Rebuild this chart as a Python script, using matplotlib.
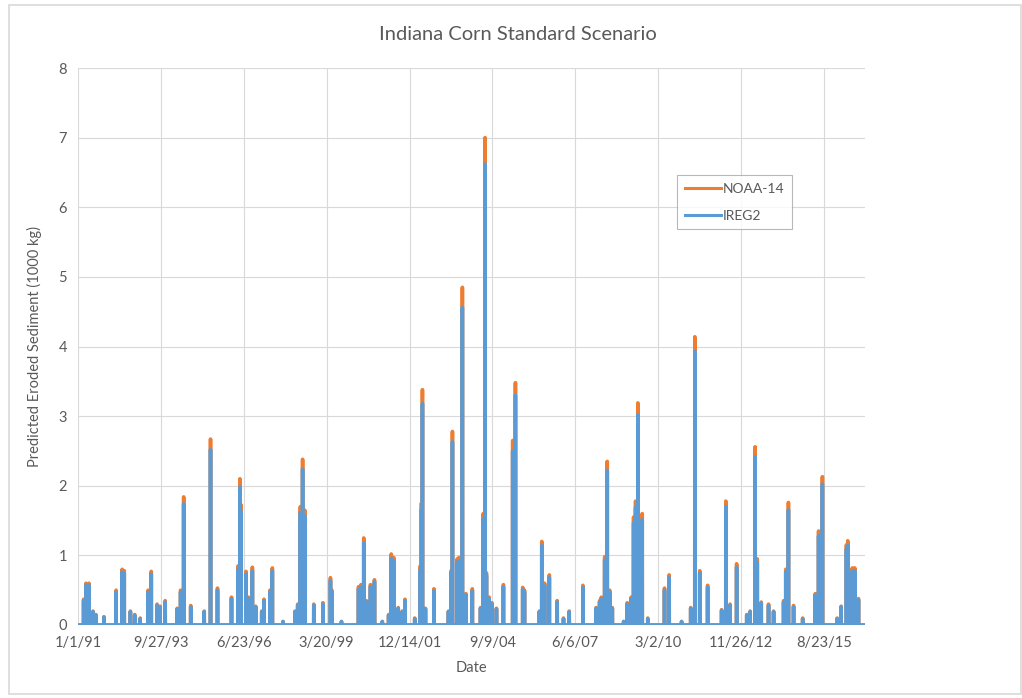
"""
Indiana Corn Standard Scenario - daily predicted eroded sediment, NOAA-14 vs IREG2.
"""

import datetime as dt
import numpy as np
import pandas as pd
import matplotlib
matplotlib.use("Agg")
import matplotlib.pyplot as plt
from matplotlib.lines import Line2D
from matplotlib.patches import Rectangle

plt.rcParams['path.simplify'] = False
plt.rcParams['font.family'] = ['Lato', 'DejaVu Sans']

# Excel default palette
ORANGE = '#ED7D31'
BLUE = '#5B9BD5'
GREY_TEXT = '#595959'
GRID = '#D9D9D9'

start_date = "1991-01-01"
end_date = "2016-12-31"

# runoff events (all other days ~0)
event_dates = [
    "1991-03-10", "1991-04-07", "1991-05-14", "1991-07-01", "1991-08-05", "1991-11-10",
    "1992-04-05", "1992-06-17", "1992-07-12", "1992-09-24", "1992-11-15", "1993-01-20",
    "1993-04-26", "1993-06-03", "1993-08-12", "1993-09-17", "1993-11-18", "1994-04-12",
    "1994-05-23", "1994-06-29", "1994-09-22", "1995-03-04", "1995-05-19", "1995-08-11",
    "1996-01-27", "1996-04-16", "1996-05-08", "1996-05-19", "1996-07-20", "1996-08-18",
    "1996-10-05", "1996-11-14", "1997-01-26", "1997-02-22", "1997-05-05", "1997-06-03",
    "1997-10-10", "1998-03-04", "1998-04-05", "1998-05-07", "1998-06-03", "1998-06-29",
    "1998-10-16", "1999-02-03", "1999-05-05", "1999-05-22", "1999-09-15", "2000-04-08",
    "2000-05-08", "2000-06-10", "2000-07-12", "2000-08-30", "2000-10-17", "2001-01-20",
    "2001-04-06", "2001-05-08", "2001-06-06", "2001-07-31", "2001-09-17", "2001-10-20",
    "2002-02-15", "2002-04-24", "2002-05-07", "2002-05-19", "2002-06-24", "2002-10-05",
    "2003-03-29", "2003-05-01", "2003-05-16", "2003-07-13", "2003-08-03", "2003-09-13",
    "2003-10-25", "2004-01-11", "2004-04-19", "2004-05-22", "2004-06-13", "2004-06-29",
    "2004-08-01", "2004-09-03", "2004-10-28", "2005-01-20", "2005-05-12", "2005-06-14",
    "2005-09-10", "2005-10-01", "2006-03-30", "2006-04-28", "2006-06-01", "2006-07-28",
    "2006-10-31", "2007-01-15", "2007-03-25", "2007-09-06", "2008-02-13", "2008-03-26",
    "2008-04-16", "2008-05-26", "2008-06-26", "2008-07-25", "2008-08-26", "2009-01-10",
    "2009-02-22", "2009-04-11", "2009-05-10", "2009-06-03", "2009-07-01", "2009-08-22",
    "2009-10-28", "2010-05-18", "2010-07-13", "2010-12-10", "2011-03-30", "2011-05-19",
    "2011-07-17", "2011-10-20", "2012-04-06", "2012-05-27", "2012-07-17", "2012-10-04",
    "2013-02-03", "2013-03-16", "2013-05-15", "2013-06-10", "2013-07-28", "2013-10-24",
    "2013-12-24", "2014-04-24", "2014-05-20", "2014-06-21", "2014-08-22", "2014-12-10",
    "2015-05-11", "2015-06-20", "2015-07-10", "2015-08-05", "2016-01-30", "2016-03-18",
    "2016-05-21", "2016-06-06", "2016-07-31", "2016-08-29", "2016-10-13",
]

noaa14_peak = [
    0.37, 0.60, 0.60, 0.20, 0.15, 0.12,
    0.50, 0.80, 0.78, 0.20, 0.15, 0.10,
    0.50, 0.77, 0.30, 0.27, 0.35, 0.24,
    0.50, 1.84, 0.28, 0.20, 2.67, 0.53,
    0.40, 0.85, 2.10, 1.73, 0.77, 0.40,
    0.83, 0.27, 0.20, 0.37, 0.50, 0.82,
    0.05, 0.20, 0.30, 1.70, 2.38, 1.65,
    0.30, 0.32, 0.68, 0.50, 0.05, 0.55,
    0.58, 1.25, 0.35, 0.58, 0.65, 0.05,
    0.15, 1.02, 0.97, 0.25, 0.20, 0.37,
    0.10, 0.85, 1.75, 3.38, 0.24, 0.52,
    0.20, 0.78, 2.78, 0.95, 0.97, 4.85,
    0.45, 0.52, 0.25, 1.60, 7.00, 0.75,
    0.40, 0.32, 0.24, 0.58, 2.65, 3.48,
    0.54, 0.50, 0.20, 1.20, 0.60, 0.72,
    0.35, 0.10, 0.20, 0.57, 0.25, 0.35,
    0.40, 0.98, 2.35, 0.50, 0.25, 0.05,
    0.32, 0.40, 1.55, 1.78, 3.19, 1.60,
    0.10, 0.53, 0.72, 0.05, 0.25, 4.14,
    0.78, 0.57, 0.22, 1.78, 0.30, 0.88,
    0.15, 0.20, 2.56, 0.95, 0.33, 0.30,
    0.20, 0.35, 0.80, 1.76, 0.28, 0.10,
    0.45, 1.35, 1.27, 2.13, 0.10, 0.27,
    1.15, 1.21, 0.82, 0.82, 0.38,
]

ireg2_peak = [
    0.35, 0.57, 0.57, 0.19, 0.14, 0.11,
    0.47, 0.76, 0.74, 0.19, 0.14, 0.09,
    0.47, 0.73, 0.28, 0.26, 0.33, 0.23,
    0.47, 1.74, 0.26, 0.19, 2.52, 0.50,
    0.38, 0.80, 1.98, 1.64, 0.73, 0.38,
    0.78, 0.26, 0.19, 0.35, 0.47, 0.78,
    0.05, 0.19, 0.28, 1.61, 2.24, 1.56,
    0.28, 0.30, 0.64, 0.47, 0.05, 0.52,
    0.55, 1.18, 0.33, 0.55, 0.62, 0.05,
    0.14, 0.96, 0.92, 0.24, 0.19, 0.35,
    0.09, 0.80, 1.66, 3.18, 0.23, 0.49,
    0.19, 0.74, 2.63, 0.90, 0.92, 4.56,
    0.43, 0.49, 0.24, 1.52, 6.62, 0.71,
    0.38, 0.30, 0.23, 0.55, 2.50, 3.30,
    0.51, 0.47, 0.19, 1.14, 0.57, 0.68,
    0.33, 0.09, 0.19, 0.54, 0.24, 0.33,
    0.38, 0.93, 2.22, 0.47, 0.24, 0.05,
    0.30, 0.38, 1.47, 1.69, 3.02, 1.51,
    0.09, 0.50, 0.68, 0.05, 0.24, 3.93,
    0.74, 0.54, 0.21, 1.70, 0.28, 0.83,
    0.14, 0.19, 2.42, 0.90, 0.31, 0.28,
    0.19, 0.33, 0.76, 1.65, 0.26, 0.09,
    0.43, 1.28, 1.20, 2.02, 0.09, 0.26,
    1.09, 1.14, 0.78, 0.78, 0.36,
]

tick_step_days = 1000
y_ticks = [0, 1, 2, 3, 4, 5, 6, 7, 8]

# daily series, zero outside of the events
days = pd.date_range(start_date, end_date, freq="D")
ev = pd.to_datetime(event_dates)
noaa14 = pd.Series(0.0, index=days)
ireg2 = pd.Series(0.0, index=days)
noaa14.loc[ev] = noaa14_peak
ireg2.loc[ev] = ireg2_peak

fig = plt.figure(figsize=(10.22, 6.98), dpi=100)
ax = fig.add_axes([78 / 1022, 1 - 625 / 698, 787 / 1022, 557 / 698])

ax.plot(days, noaa14.values, color=ORANGE, lw=2.6, zorder=3)
ax.plot(days, ireg2.values, color=BLUE, lw=2.6, zorder=4)

# x ticks every 1000 days, Excel style m/d/yy
t0 = pd.Timestamp(start_date)
xt = [t0 + pd.Timedelta(days=k * tick_step_days)
      for k in range(int((days[-1] - t0).days // tick_step_days) + 1)]
ax.set_xticks(xt)
ax.set_xticklabels([f"{d.month}/{d.day}/{d:%y}" for d in xt])
ax.set_xlim(days[0], days[-1])

ax.set_ylim(0, 8)
ax.set_yticks(y_ticks)

ax.grid(True, color=GRID, lw=0.8, zorder=0)
ax.set_axisbelow(True)
for s in ax.spines.values():
    s.set_visible(False)
ax.tick_params(length=0, labelsize=10.5, colors=GREY_TEXT, pad=8)

ax.set_xlabel("Date", fontsize=10.5, color=GREY_TEXT, labelpad=8)
ax.set_ylabel("Predicted Eroded Sediment (1000 kg)", fontsize=10.5,
              color=GREY_TEXT, labelpad=12)

fig.text(518 / 1022, 1 - 35 / 698, "Indiana Corn Standard Scenario",
         ha='center', va='center', fontsize=14.5, color=GREY_TEXT)

handles = [Line2D([], [], color=ORANGE, lw=2.2), Line2D([], [], color=BLUE, lw=2.2)]
leg = ax.legend(handles, ['NOAA-14', 'IREG2'], loc='upper left',
                bbox_to_anchor=(0.761, 0.808), fontsize=10, frameon=True,
                fancybox=False, handlelength=2.6, labelspacing=1.1,
                borderpad=0.55, handletextpad=0.15, borderaxespad=0)
leg.get_frame().set_edgecolor('#A6A6A6')
leg.get_frame().set_linewidth(0.8)
for t in leg.get_texts():
    t.set_color(GREY_TEXT)

# chart area border
fig.patches.append(Rectangle((9 / 1022, 4 / 698), 1012 / 1022, 689 / 698,
                             transform=fig.transFigure, fill=False,
                             edgecolor=GRID, lw=1.2))

fig.savefig("out.png", dpi=100)
